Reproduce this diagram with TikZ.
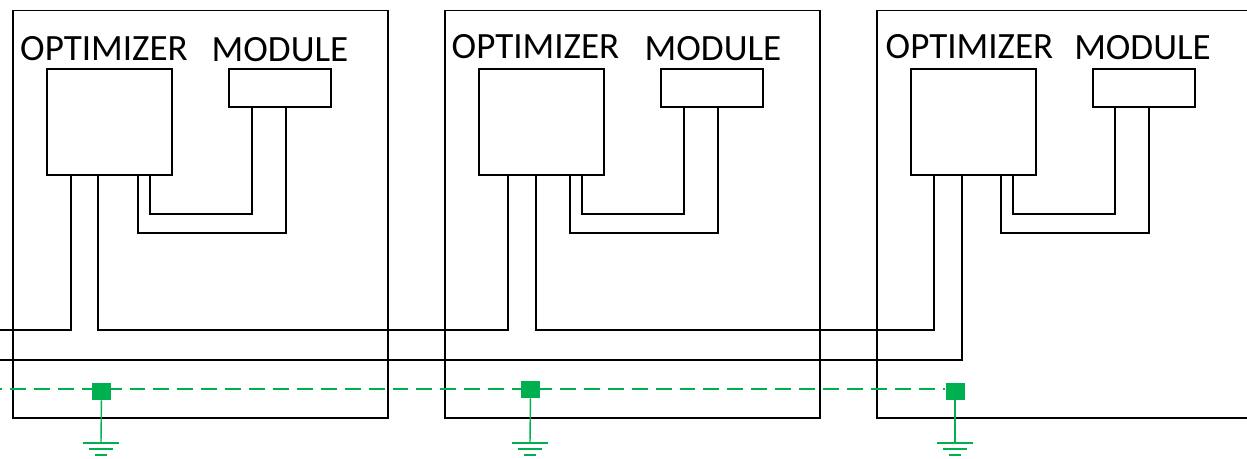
\documentclass[tikz,border=0pt]{standalone}
\usepackage{fontspec}
\setmainfont{Carlito}
\definecolor{gndgreen}{RGB}{0,176,80}
\tikzset{
    framebox/.style={draw, line width=0.9pt, minimum width=7.5cm, minimum height=8.15cm, inner sep=0pt},
    optbox/.style={draw, line width=0.85pt, fill=white, minimum width=2.5cm, minimum height=2.12cm, inner sep=0pt},
    modbox/.style={draw, line width=0.85pt, fill=white, minimum width=2.04cm, minimum height=0.76cm, inner sep=0pt},
    wire/.style={line width=0.85pt},
    gndwire/.style={gndgreen, line width=0.8pt},
    gndpad/.style={fill=gndgreen, minimum width=0.38cm, minimum height=0.34cm, inner sep=0pt},
    title/.style={font=\fontsize{21.1}{24}\selectfont, inner sep=0pt}
}
\begin{document}
\begin{tikzpicture}[x=0.02cm, y=-0.02cm]
    \useasboundingbox (0,0) rectangle (1247,458);

    % Outer frames
    \node[framebox] (framea) at (200.5,214.2) {};
    \node[framebox] (frameb) at (632.5,214.2) {};
    \draw[line width=0.9pt] (1247,10.5) -- (877,10.5) -- (877,418) -- (1247,418);

    % Units: name/shift of boxes/shift of links/x of the two bus drops
    \foreach \u/\dx/\wx/\lx/\rx in {a/0/0/71/98, b/432/432/508/536, c/864/863/934/962} {
        \node[optbox] (opt\u) at (109.5+\dx,122) {};
        \node[modbox] (mod\u) at (280+\dx,88) {};
        \coordinate (inner\u) at (150+\wx,175);
        \coordinate (outer\u) at (138+\wx,175);
        \coordinate (modl\u) at (252+\wx,107);
        \coordinate (modr\u) at (286+\wx,107);
        \coordinate (left\u) at (\lx,175);
        \coordinate (right\u) at (\rx,175);
        % Links between optimizer and module
        \draw[wire] (inner\u) -- ++(0,39) -| (modl\u);
        \draw[wire] (outer\u) -- ++(0,58) -| (modr\u);
    }
    \node[title] (tita) at (104,49) {OPTIMIZER};
    \node[title] (titma) at (280,50) {MODULE};
    \node[title] (titb) at (535.5,47) {OPTIMIZER};
    \node[title] (titmb) at (713,49) {MODULE};
    \node[title] (titc) at (969.5,47) {OPTIMIZER};
    \node[title] (titmc) at (1142.5,48) {MODULE};

    % Bus wires
    \coordinate (busin) at (0,330);
    \coordinate (busout) at (0,360);
    \draw[wire] (lefta) |- (busin);
    \draw[wire] (righta) |- (leftb |- busin) -- (leftb);
    \draw[wire] (rightb) |- (leftc |- busin) -- (leftc);
    \draw[wire] (rightc) |- (busout);

    % Ground line and pads
    \node[gndpad] (pada) at (101.5,391.5) {};
    \node[gndpad] (padb) at (530.5,389.5) {};
    \node[gndpad] (padc) at (955,391) {};
    \coordinate (gndin) at (0,389);
    \draw[gndwire, dash pattern=on 9.07pt off 4.54pt, dash phase=7.94pt] (gndin) -- (padc.west |- gndin);
    \foreach \u/\gx in {a/101, b/530, c/955} {
        \coordinate (gnd\u) at (\gx,443);
        \draw[gndwire] (pad\u) -- (gnd\u);
        \draw[gndwire] (\gx-18,443) -- (\gx+18,443);
        \draw[gndwire] (\gx-12,449) -- (\gx+12,449);
        \draw[gndwire] (\gx-6,455) -- (\gx+6,455);
    }
\end{tikzpicture}
\end{document}
